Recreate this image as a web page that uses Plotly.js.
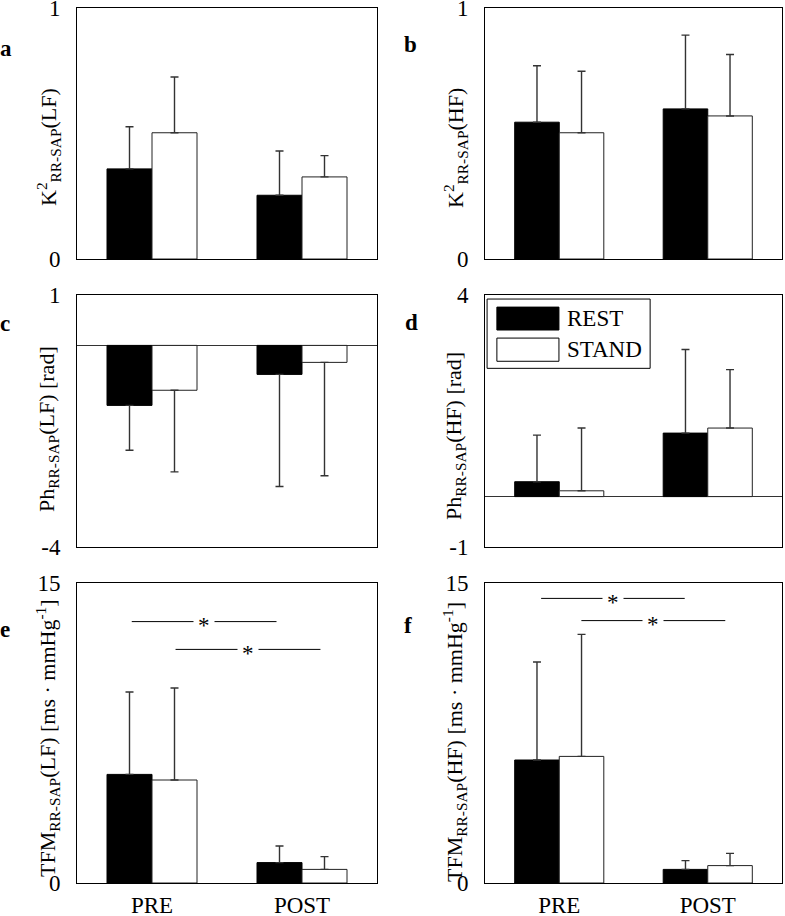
<!DOCTYPE html>
<html>
<head>
<meta charset="utf-8">
<script src="https://cdn.plot.ly/plotly-3.0.1.min.js"></script>
<style>html,body{margin:0;padding:0;background:#fff;}#chart{width:785px;height:916px;}</style>
</head>
<body>
<div id="chart"></div>
<script>
// ---------- DATA ----------
const categories = ['PRE', 'POST'];
const seriesNames = ['REST', 'STAND'];
const panelLetters = ['a', 'b', 'c', 'd', 'e', 'f'];

// a: K2 RR-SAP (LF)
const kLF_rest = [0.359, 0.254];
const kLF_rest_sd = [0.168, 0.176];
const kLF_stand = [0.503, 0.327];
const kLF_stand_sd = [0.222, 0.085];
// b: K2 RR-SAP (HF)
const kHF_rest = [0.545, 0.598];
const kHF_rest_sd = [0.225, 0.294];
const kHF_stand = [0.503, 0.570];
const kHF_stand_sd = [0.245, 0.245];
// c: Ph RR-SAP (LF)
const phLF_rest = [-1.19, -0.575];
const phLF_rest_sd = [0.89, 2.225];
const phLF_stand = [-0.89, -0.337];
const phLF_stand_sd = [1.62, 2.25];
// d: Ph RR-SAP (HF)
const phHF_rest = [0.295, 1.26];
const phHF_rest_sd = [0.925, 1.66];
const phHF_stand = [0.115, 1.36];
const phHF_stand_sd = [1.245, 1.16];
// e: TFM RR-SAP (LF)
const tfmLF_rest = [5.43, 1.02];
const tfmLF_rest_sd = [4.12, 0.83];
const tfmLF_stand = [5.15, 0.68];
const tfmLF_stand_sd = [4.60, 0.64];
// f: TFM RR-SAP (HF)
const tfmHF_rest = [6.15, 0.68];
const tfmHF_rest_sd = [4.90, 0.44];
const tfmHF_stand = [6.33, 0.87];
const tfmHF_stand_sd = [6.10, 0.61];

// y-axis ranges / tick labels
const yTicksA = [0, 1];
const yTicksB = [0, 1];
const yTicksC = [-4, 1];
const yTicksD = [-1, 4];
const yTicksE = [0, 15];
const yTicksF = [0, 15];

// significance brackets (x from, x to, y level)
const sigE_x0 = [-0.135, 0.157];
const sigE_x1 = [0.83, 1.123];
const sigE_y = [13.07, 11.68];
const sigF_x0 = [-0.122, 0.149];
const sigF_x1 = [0.845, 1.118];
const sigF_y = [14.23, 13.12];
const sigLabel = '*';

// axis titles
const yTitles = [
  'K<sup>2</sup><sub>RR-SAP</sub>(LF)',
  'K<sup>2</sup><sub>RR-SAP</sub>(HF)',
  'Ph<sub>RR-SAP</sub>(LF) [rad]',
  'Ph<sub>RR-SAP</sub>(HF) [rad]',
  'TFM<sub>RR-SAP</sub>(LF) [ms · mmHg<sup>-1</sup>]',
  'TFM<sub>RR-SAP</sub>(HF) [ms · mmHg<sup>-1</sup>]'
];

// ---------- LAYOUT GEOMETRY ----------
const W = 785, H = 916;
const FONT = '"Liberation Serif", "Times New Roman", Times, serif';
const colX = [[77, 377], [485, 782]];
const rowY = [[8, 259], [295, 547], [583, 883]];
const px = v => v / W;
const py = v => 1 - v / H;

const panels = [
  {rest: kLF_rest, restSd: kLF_rest_sd, stand: kLF_stand, standSd: kLF_stand_sd, ticks: yTicksA},
  {rest: kHF_rest, restSd: kHF_rest_sd, stand: kHF_stand, standSd: kHF_stand_sd, ticks: yTicksB},
  {rest: phLF_rest, restSd: phLF_rest_sd, stand: phLF_stand, standSd: phLF_stand_sd, ticks: yTicksC},
  {rest: phHF_rest, restSd: phHF_rest_sd, stand: phHF_stand, standSd: phHF_stand_sd, ticks: yTicksD},
  {rest: tfmLF_rest, restSd: tfmLF_rest_sd, stand: tfmLF_stand, standSd: tfmLF_stand_sd, ticks: yTicksE},
  {rest: tfmHF_rest, restSd: tfmHF_rest_sd, stand: tfmHF_stand, standSd: tfmHF_stand_sd, ticks: yTicksF}
];

// title centres (pixels) and letter positions
const titlePos = [[48, 147], [455, 148], [48, 429], [455, 436], [47, 738], [454, 742]];
const letterPos = [[6, 48], [410, 45], [5, 323], [411, 322], [5, 629], [408, 625]];

const traces = [];
const layout = {
  width: W, height: H,
  margin: {l: 0, r: 0, t: 0, b: 0},
  paper_bgcolor: '#fff', plot_bgcolor: '#fff',
  font: {family: FONT, size: 23, color: '#000'},
  barmode: 'group', bargap: 0.4, bargroupgap: 0,
  showlegend: false,
  shapes: [], annotations: []
};

function errObj(means, sds) {
  return {
    type: 'data', symmetric: false,
    array: means.map((m, i) => m >= 0 ? sds[i] : 0),
    arrayminus: means.map((m, i) => m < 0 ? sds[i] : 0),
    color: '#333', thickness: 1.4, width: 4
  };
}

panels.forEach((p, i) => {
  const n = i + 1;
  const col = i % 2, row = Math.floor(i / 2);
  traces.push({
    type: 'bar', x: categories.map((c, k) => k), y: p.rest, name: seriesNames[0],
    xaxis: 'x' + n, yaxis: 'y' + n,
    marker: {color: '#000', line: {color: '#000', width: 1}},
    error_y: errObj(p.rest, p.restSd), hoverinfo: 'skip'
  });
  traces.push({
    type: 'bar', x: categories.map((c, k) => k), y: p.stand, name: seriesNames[1],
    xaxis: 'x' + n, yaxis: 'y' + n,
    marker: {color: '#fff', line: {color: '#222', width: 1}},
    error_y: errObj(p.stand, p.standSd), hoverinfo: 'skip'
  });
  const hasZero = p.ticks[0] < 0;
  layout['xaxis' + (n === 1 ? '' : n)] = {
    domain: [px(colX[col][0]), px(colX[col][1])],
    anchor: 'y' + n, range: [-0.5, 1.5],
    tickvals: [0, 1], ticktext: categories,
    showticklabels: row === 2, ticks: '', ticklabelstandoff: 1,
    showline: true, mirror: true, linecolor: '#000', linewidth: 1,
    showgrid: false, zeroline: false, fixedrange: true,
    tickfont: {family: FONT, size: 23, color: '#000'}
  };
  layout['yaxis' + (n === 1 ? '' : n)] = {
    domain: [py(rowY[row][1]), py(rowY[row][0])],
    anchor: 'x' + n, range: [p.ticks[0], p.ticks[1]],
    tickvals: p.ticks, ticktext: p.ticks.map(String),
    ticks: '', ticklabelstandoff: 11, ticklabeloverflow: 'allow',
    showline: true, mirror: true, linecolor: '#000', linewidth: 1,
    showgrid: false, zeroline: hasZero, zerolinecolor: '#333', zerolinewidth: 1.4,
    fixedrange: true,
    tickfont: {family: FONT, size: 23, color: '#000'}
  };
  // y-axis title
  layout.annotations.push({
    xref: 'paper', yref: 'paper', x: px(titlePos[i][0]), y: py(titlePos[i][1]),
    xanchor: 'center', yanchor: 'middle', textangle: -90, showarrow: false,
    text: yTitles[i], font: {family: FONT, size: 22, color: '#000'}
  });
  // panel letter
  layout.annotations.push({
    xref: 'paper', yref: 'paper', x: px(letterPos[i][0]), y: py(letterPos[i][1]),
    xanchor: 'center', yanchor: 'middle', showarrow: false,
    text: '<b>' + panelLetters[i] + '</b>', font: {family: FONT, size: 23, color: '#000'}
  });
});

// significance brackets
function addSig(n, x0s, x1s, ys) {
  x0s.forEach((x0, k) => {
    layout.shapes.push({
      type: 'line', xref: 'x' + n, yref: 'y' + n,
      x0: x0, x1: x1s[k], y0: ys[k], y1: ys[k],
      line: {color: '#000', width: 1}
    });
    layout.annotations.push({
      xref: 'x' + n, yref: 'y' + n, x: (x0 + x1s[k]) / 2, y: ys[k],
      xanchor: 'center', yanchor: 'middle', showarrow: false,
      text: sigLabel, bgcolor: '#fff', borderpad: 4, yshift: -4,
      font: {family: FONT, size: 23, color: '#000'}
    });
  });
}
addSig(5, sigE_x0, sigE_x1, sigE_y);
addSig(6, sigF_x0, sigF_x1, sigF_y);

// manual legend inside panel d
const lx = 'x4 domain', ly = 'y4 domain';
layout.shapes.push({type: 'rect', xref: lx, yref: ly, x0: 0.007, x1: 0.556, y0: 0.709, y1: 0.984,
  line: {color: '#000', width: 1}, fillcolor: '#fff', layer: 'above'});
layout.shapes.push({type: 'rect', xref: lx, yref: ly, x0: 0.040, x1: 0.249, y0: 0.861, y1: 0.952,
  line: {color: '#000', width: 1}, fillcolor: '#000', layer: 'above'});
layout.shapes.push({type: 'rect', xref: lx, yref: ly, x0: 0.040, x1: 0.249, y0: 0.737, y1: 0.829,
  line: {color: '#000', width: 1}, fillcolor: '#fff', layer: 'above'});
[[seriesNames[0], 0.906], [seriesNames[1], 0.783]].forEach(([t, yy]) => {
  layout.annotations.push({xref: lx, yref: ly, x: 0.268, y: yy, xanchor: 'left', yanchor: 'middle',
    showarrow: false, text: t, font: {family: FONT, size: 23, color: '#000'}});
});

Plotly.newPlot('chart', traces, layout, {staticPlot: true, displayModeBar: false});
</script>
</body>
</html>
